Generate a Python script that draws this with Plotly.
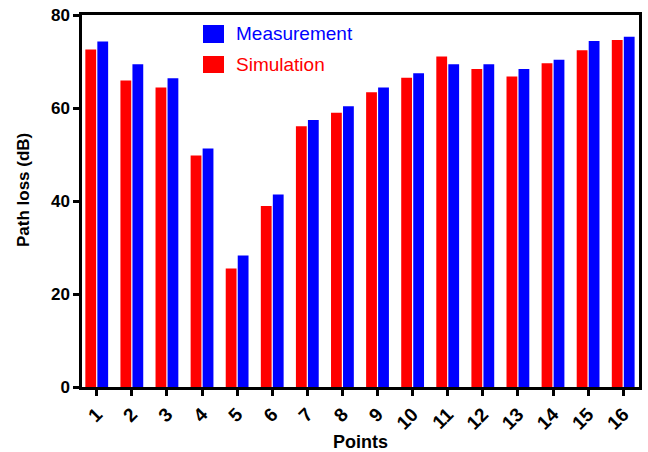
import plotly.graph_objects as go

points = list(range(1, 17))
tick_labels = [str(p) for p in points]
simulation = [72.6, 65.9, 64.4, 49.8, 25.5, 38.9, 56.1, 59.0, 63.4, 66.5, 71.1, 68.4, 66.8, 69.6, 72.4, 74.6]
measurement = [74.3, 69.4, 66.4, 51.3, 28.3, 41.4, 57.4, 60.4, 64.4, 67.5, 69.4, 69.4, 68.4, 70.4, 74.4, 75.3]
series_colors = {"Measurement": "#0000FF", "Simulation": "#FF0000"}

W, H = 648, 452
L, R, T, B = 82, 9, 15, 65
pw, ph = W - L - R, H - T - B

def px_x(p):
    return (p - L) / pw

def px_y(p):
    return (H - B - p) / ph

fig = go.Figure()
fig.add_trace(go.Bar(x=points, y=simulation, name="Simulation",
                     marker=dict(color=series_colors["Simulation"], line=dict(width=0)),
                     showlegend=False))
fig.add_trace(go.Bar(x=points, y=measurement, name="Measurement",
                     marker=dict(color=series_colors["Measurement"], line=dict(width=0)),
                     showlegend=False))

font_fam = "Liberation Sans, Arial, sans-serif"

# legend drawn as squares + text
legend_rows = [("Measurement", 25, 43, 34), ("Simulation", 56, 73, 64.5)]
for name, y0, y1, yc in legend_rows:
    fig.add_shape(type="rect", xref="paper", yref="paper",
                  x0=px_x(203), x1=px_x(224), y0=px_y(y1), y1=px_y(y0),
                  fillcolor=series_colors[name], line=dict(width=0))
    fig.add_annotation(xref="paper", yref="paper", x=px_x(234), y=px_y(yc),
                       xanchor="left", yanchor="middle", text=name, showarrow=False,
                       font=dict(family=font_fam, size=19, color=series_colors[name]))

# y-axis title as annotation for precise placement
fig.add_annotation(xref="paper", yref="paper", x=px_x(23), y=px_y(190),
                   xanchor="center", yanchor="middle", textangle=-90,
                   text="Path loss (dB)", showarrow=False,
                   font=dict(family=font_fam, size=17, weight="bold", color="black"))

fig.update_layout(
    width=W, height=H,
    margin=dict(l=L, r=R, t=T, b=B, autoexpand=False),
    paper_bgcolor="white", plot_bgcolor="white",
    barmode="group", bargap=0.316, bargroupgap=0.1,
    font=dict(family=font_fam, color="black"),
    showlegend=False,
)
fig.update_xaxes(
    range=[0.58, 16.45], tickmode="array", tickvals=points, ticktext=tick_labels,
    tickangle=-45, ticks="outside", ticklen=6, tickwidth=2.5, tickcolor="black",
    showline=True, linewidth=2.5, linecolor="black", mirror=True,
    showgrid=False, zeroline=False,
    tickfont=dict(family=font_fam, size=19, weight="bold"),
    title=dict(text="Points", font=dict(family=font_fam, size=18, weight="bold"), standoff=11),
)
fig.update_yaxes(
    range=[0, 80], tickvals=[0, 20, 40, 60, 80],
    ticks="outside", ticklen=6, tickwidth=2.5, tickcolor="black",
    showline=True, linewidth=2.5, linecolor="black", mirror=True,
    showgrid=False, zeroline=False,
    tickfont=dict(family=font_fam, size=17, weight="bold"),
)

fig.write_html("out.html")
